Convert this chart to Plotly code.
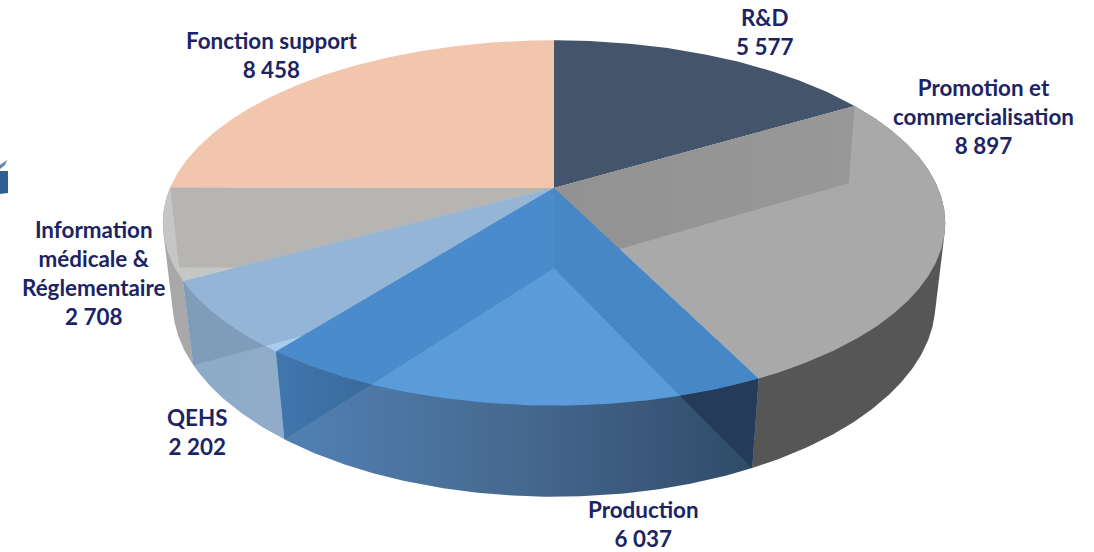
import numpy as np
import plotly.graph_objects as go

# ---- data
categories = ["R&D", "Promotion et<br>commercialisation", "Production", "QEHS",
              "Information<br>médicale &<br>Réglementaire", "Fonction support"]
values = [5577, 8897, 6037, 2202, 2708, 8458]
value_labels = ["5 577", "8 897", "6 037", "2 202", "2 708", "8 458"]
label_x = [764, 983, 643, 197, 94, 271]
label_y = [31.5, 116, 523.5, 432, 273, 55]

NAVY = "#1C2463"

# ---- perspective of the pie: top and bottom discs
TOP = dict(cx=554, cy=188, A=384, B=176, k=0.191, kx=0.191)
BOT = dict(cx=554, cy=268, A=375, B=183, k=0.20, kx=0.183)


def proj(theta_deg, d, r=1.0):
    t = np.radians(theta_deg)
    x, y = r * np.sin(t), r * np.cos(t)
    return d["cx"] + d["A"] * x / (1 + d["kx"] * y), d["cy"] - d["B"] * y / (1 + d["k"] * y)


def arc(a, b, d, n=None):
    n = n or max(3, int(abs(b - a)) * 2 + 2)
    ts = np.linspace(a, b, n)
    return proj(ts, d)


def hull(xs, ys):
    pts = sorted(set(zip(np.round(xs, 3).tolist(), np.round(ys, 3).tolist())))

    def half(seq):
        out = []
        for p in seq:
            while len(out) >= 2 and ((out[-1][0] - out[-2][0]) * (p[1] - out[-2][1])
                                     - (out[-1][1] - out[-2][1]) * (p[0] - out[-2][0])) <= 0:
                out.pop()
            out.append(p)
        return out[:-1]

    h = half(pts) + half(pts[::-1])
    return [p[0] for p in h], [p[1] for p in h]


total = sum(values)
edges = np.concatenate([[0], np.cumsum(values) / total * 360])
a_rd, a_pr, a_pd, a_qe, a_in = edges[1:6]
APEX_T = (TOP["cx"], TOP["cy"])
APEX_B = (BOT["cx"], BOT["cy"])

fig = go.Figure()


def poly(xs, ys, color=None, grad=None):
    xs, ys = list(xs), list(ys)
    kw = dict(x=xs + xs[:1], y=ys + ys[:1], mode="lines", fill="toself",
              line=dict(width=0), hoverinfo="skip", showlegend=False)
    if grad:
        kw["fillgradient"] = dict(type="horizontal",
                                  colorscale=[[i / (len(grad) - 1), c] for i, c in enumerate(grad)])
    else:
        kw["fillcolor"] = color
    fig.add_trace(go.Scatter(**kw))


def top_sector(a, b, **k):
    x, y = arc(a, b, TOP)
    poly([APEX_T[0]] + list(x), [APEX_T[1]] + list(y), **k)


def outer_wall(a, b, **k):
    xt, yt = arc(a, b, TOP)
    xb, yb = arc(b, a, BOT)
    hx, hy = hull(np.concatenate([xt, xb]), np.concatenate([yt, yb]))
    poly(hx, hy, **k)


def inner_wall(a, **k):
    xt, yt = proj(a, TOP)
    xb, yb = proj(a, BOT)
    poly([APEX_T[0], xt, xb, APEX_B[0]], [APEX_T[1], yt, yb, APEX_B[1]], **k)


def crossing(a):
    """Angle on the top rim, towards the front, where the floor edge of the wall at a crosses it."""
    xb, yb = proj(a, BOT)
    dx, dy = xb - APEX_B[0], yb - APEX_B[1]
    step = 0.1 if a < 180 else -0.1
    ts = np.arange(a + step, 180, step)
    x, y = proj(ts, TOP)
    s = dx * (y - APEX_B[1]) - dy * (x - APEX_B[0])
    x0, y0 = proj(a, TOP)
    s0 = dx * (y0 - APEX_B[1]) - dy * (x0 - APEX_B[0])
    i = np.argmax(np.sign(s) != np.sign(s0))
    return ts[i]


def wall_on_top(a, color):
    p = crossing(a)
    x, y = arc(a, p, TOP)
    poly([APEX_T[0]] + list(x) + [APEX_B[0]], [APEX_T[1]] + list(y) + [APEX_B[1]], color=color)


def wall_on_side(a, **k):
    p = crossing(a)
    x, y = arc(p, a, TOP)
    xb, yb = proj(a, BOT)
    poly(list(x) + [xb], list(y) + [yb], **k)


# back slices
top_sector(a_in, 360, color="#F2C6AD")
top_sector(0, a_rd, color="#44546A")

# Promotion
outer_wall(a_rd, a_pr, color="#565656")
top_sector(a_rd, a_pr, color="#A9A9A9")
inner_wall(a_rd, grad=["#929292", "#989898"])

# Information
outer_wall(a_qe, a_in, color="#A8A8A8")
top_sector(a_qe, a_in, color="#C6C6C5")
inner_wall(a_in, color="#B6B5B3")

# QEHS
outer_wall(a_pd, a_qe, grad=["#8DAAC9", "#90ACCA"])
top_sector(a_pd, a_qe, color="#A9CBEC")
wall_on_top(a_qe, "#94B5D6")
wall_on_side(a_qe, color="#7F9DBB")

# Production
outer_wall(a_pr, a_pd, grad=["#5182B6", "#46698F", "#2F4A68"])
top_sector(a_pr, a_pd, color="#5B9BD9")
wall_on_top(a_pr, "#4887C6")
wall_on_top(a_pd, "#4A8BCB")
wall_on_side(a_pr, color="#243B59")
wall_on_side(a_pd, grad=["#4177AE", "#396A9C"])

# labels
for c, v, x, y in zip(categories, value_labels, label_x, label_y):
    fig.add_annotation(x=x, y=y, text=f"<b>{c}<br>{v}</b>", showarrow=False,
                       xanchor="center", yanchor="middle", align="center",
                       font=dict(family="Lato", size=22.4, color=NAVY))

# clipped picture remnant at the left edge of the image
fig.add_shape(type="path", path="M 0 171 L 8 171 L 8 193 L 0 194 Z",
              fillcolor="#2F5F95", line=dict(width=0), layer="above")
fig.add_shape(type="path", path="M 0 165 L 7 160 L 5 165 L 0 169 Z",
              fillcolor="#5F84AE", line=dict(width=0), layer="above")

fig.update_layout(
    width=1094, height=552, margin=dict(l=0, r=0, t=0, b=0),
    paper_bgcolor="white", plot_bgcolor="white", showlegend=False,
    xaxis=dict(range=[0, 1094], visible=False, fixedrange=True),
    yaxis=dict(range=[552, 0], visible=False, fixedrange=True),
)
fig.write_html("out.html", config=dict(displayModeBar=False),
               post_script="document.body.style.margin='0';document.body.style.overflow='hidden';")
